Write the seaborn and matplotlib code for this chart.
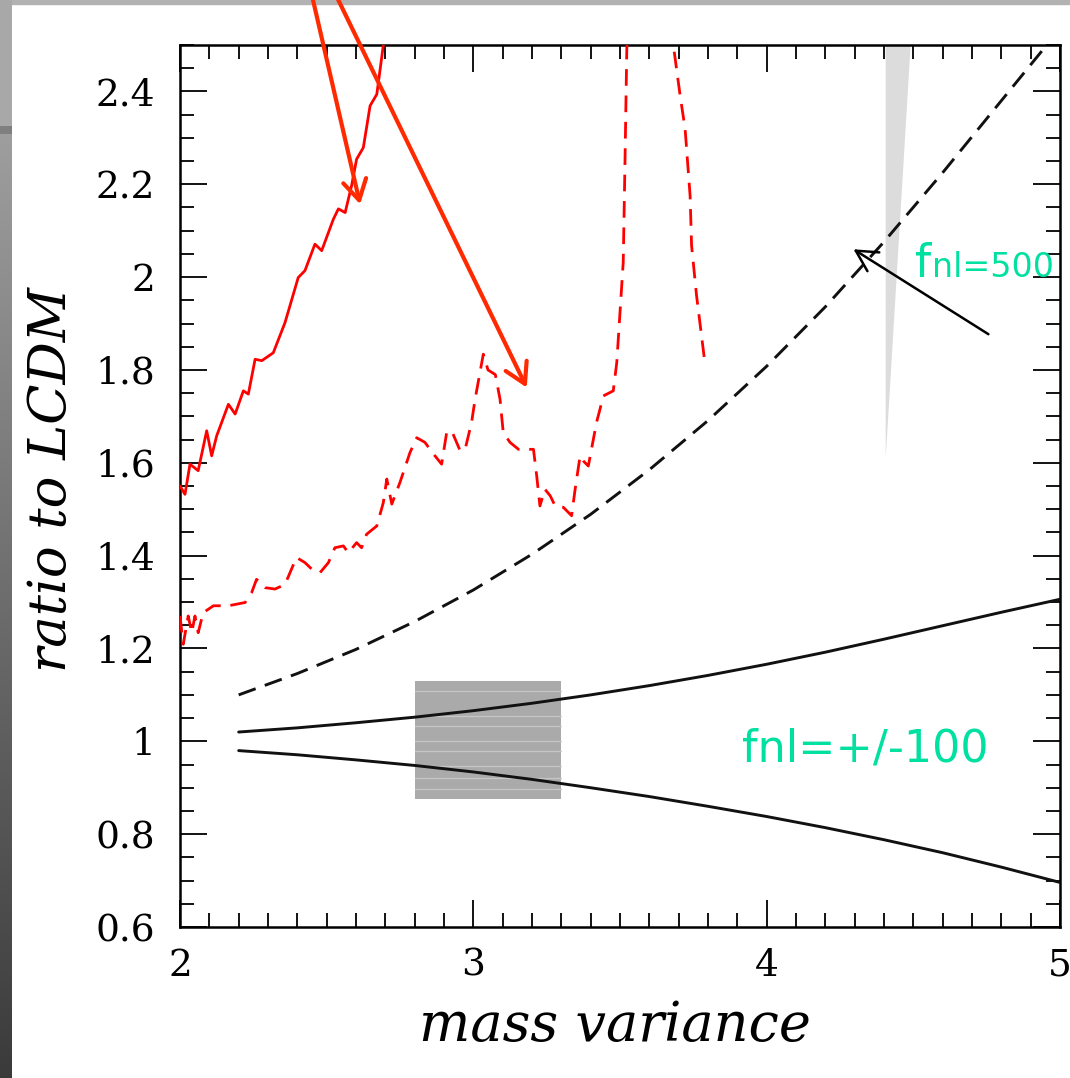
import numpy as np
import matplotlib
matplotlib.use("Agg")
import matplotlib.pyplot as plt
import seaborn as sns
from matplotlib.ticker import MultipleLocator, FuncFormatter
from matplotlib.patches import Rectangle

# ---------------------------------------------------------------- data
# simulation ratio, solid red
sim_solid_x = [2.000, 2.017, 2.034, 2.062, 2.091, 2.108, 2.125, 2.165, 2.188, 2.216,
               2.233, 2.256, 2.279, 2.318, 2.358, 2.403, 2.426, 2.460, 2.483, 2.523,
               2.540, 2.563, 2.585, 2.602, 2.625, 2.648, 2.671, 2.693, 2.710]
sim_solid_y = [1.550, 1.532, 1.597, 1.583, 1.669, 1.615, 1.658, 1.726, 1.705, 1.755,
               1.748, 1.823, 1.820, 1.837, 1.902, 1.999, 2.014, 2.071, 2.057, 2.125,
               2.147, 2.139, 2.197, 2.254, 2.279, 2.369, 2.394, 2.499, 2.560]

# simulation ratio, dashed red
sim_dash_x = [2.000, 2.011, 2.028, 2.040, 2.051, 2.062, 2.079, 2.114, 2.165, 2.222,
              2.244, 2.261, 2.290, 2.324, 2.358, 2.397, 2.426, 2.449, 2.477, 2.506,
              2.528, 2.557, 2.574, 2.602, 2.619, 2.636, 2.671, 2.693, 2.705, 2.722,
              2.750, 2.784, 2.807, 2.835, 2.864, 2.892, 2.909, 2.926, 2.955, 2.972,
              2.994, 3.006, 3.034, 3.050, 3.075, 3.091, 3.102, 3.125, 3.154, 3.205,
              3.216, 3.227, 3.244, 3.262, 3.279, 3.307, 3.335, 3.347, 3.364, 3.375,
              3.392, 3.420, 3.432, 3.443, 3.477, 3.489, 3.511, 3.517, 3.523, 3.528,
              3.678, 3.682, 3.705, 3.722, 3.739, 3.744, 3.761, 3.790]
sim_dash_y = [1.270, 1.209, 1.270, 1.234, 1.270, 1.234, 1.277, 1.292, 1.292, 1.299,
              1.320, 1.349, 1.331, 1.328, 1.338, 1.396, 1.385, 1.371, 1.363, 1.385,
              1.417, 1.421, 1.406, 1.428, 1.417, 1.446, 1.464, 1.514, 1.565, 1.511,
              1.558, 1.622, 1.654, 1.644, 1.619, 1.597, 1.665, 1.669, 1.626, 1.629,
              1.687, 1.737, 1.834, 1.800, 1.790, 1.737, 1.665, 1.644, 1.629, 1.629,
              1.572, 1.507, 1.543, 1.529, 1.507, 1.504, 1.486, 1.543, 1.615, 1.604,
              1.593, 1.687, 1.716, 1.744, 1.755, 1.816, 2.032, 2.247, 2.484, 2.620,
              2.620, 2.499, 2.391, 2.319, 2.175, 2.068, 1.960, 1.812]

# model prediction, fnl = 500 (dashed black)
model500_x = [2.2, 2.4, 2.6, 2.8, 3.0, 3.2, 3.4, 3.6, 3.8, 4.0, 4.2, 4.4, 4.6, 4.8, 5.0]
model500_y = [1.100, 1.146, 1.198, 1.258, 1.326, 1.403, 1.489, 1.585, 1.691, 1.808,
              1.936, 2.076, 2.225, 2.380, 2.535]

# model predictions, fnl = +100 / -100 (solid black)
model100_x = [2.2, 2.4, 2.6, 2.8, 3.0, 3.2, 3.4, 3.6, 3.8, 4.0, 4.2, 4.4, 4.6, 4.8, 5.0]
model_pos100_y = [1.020, 1.029, 1.040, 1.052, 1.066, 1.082, 1.100, 1.120, 1.142, 1.166,
                  1.192, 1.220, 1.249, 1.278, 1.306]
model_neg100_y = [0.980, 0.971, 0.960, 0.948, 0.934, 0.918, 0.900, 0.881, 0.860, 0.838,
                  0.814, 0.788, 0.760, 0.729, 0.696]

# shaded constraint box and wedge
box_x = [2.80, 3.30]
box_y = [0.875, 1.129]
box_lines_y = [1.108, 1.054, 1.033, 1.001, 0.979, 0.947, 0.922, 0.897]
wedge_y = [1.61, 2.50]
wedge_left = [4.404, 4.404]
wedge_right = [4.404, 4.489]

x_ticks = [2, 3, 4, 5]
y_ticks = [0.6, 0.8, 1.0, 1.2, 1.4, 1.6, 1.8, 2.0, 2.2, 2.4]

# ---------------------------------------------------------------- style
sns.set_style("ticks")
plt.rcParams.update({
    "font.family": ["DejaVu Serif"],
    "lines.scale_dashes": False,
    "xtick.direction": "in",
    "ytick.direction": "in",
    "xtick.top": True,
    "ytick.right": True,
    "axes.linewidth": 1.8,
    "axes.edgecolor": "black",
    "text.color": "black",
    "axes.labelcolor": "black",
    "xtick.color": "black",
    "ytick.color": "black",
    "xtick.labelcolor": "black",
    "ytick.labelcolor": "black",
})

GREEN = "#00e0a0"
ARROW_RED = "#ff2a00"

fig = plt.figure(figsize=(10.70, 10.78), dpi=100)
fig.patch.set_facecolor("white")

# slide frame: grey strip on the left and a thin band on top
strip = fig.add_axes([0, 0, 12 / 1070, 1])
shade = np.empty(1078)
shade[:126] = 0.66
shade[126:134] = 0.50
shade[134:] = np.linspace(0.62, 0.23, 1078 - 134)
strip.imshow(np.repeat(shade[:, None, None], 3, axis=2), aspect="auto",
             extent=[0, 1, 0, 1], interpolation="bilinear")
strip.set_axis_off()
fig.add_artist(Rectangle((0, 1 - 4 / 1078), 1, 4 / 1078, transform=fig.transFigure,
                         color="#b2b2b2", zorder=0))

ax = fig.add_axes([180 / 1070, 151 / 1078, 880 / 1070, 882 / 1078])
ax.set_facecolor("white")

# shaded regions
ax.fill_between(box_x, box_y[0], box_y[1], color="#aaaaaa", lw=0, zorder=1)
for yl in box_lines_y:
    ax.plot(box_x, [yl, yl], color="#c6c6c6", lw=0.9, zorder=1.2)
ax.fill_betweenx(wedge_y, wedge_left, wedge_right, color="#dcdcdc", lw=0, zorder=1)

# curves
sns.lineplot(x=sim_solid_x, y=sim_solid_y, ax=ax, color="#ff0000", lw=2.0,
             sort=False, estimator=None, zorder=3)
sns.lineplot(x=sim_dash_x, y=sim_dash_y, ax=ax, color="#ff0000", lw=2.0,
             linestyle=(0, (12, 7)), sort=False, estimator=None, zorder=3)
sns.lineplot(x=model500_x, y=model500_y, ax=ax, color="#111111", lw=2.1,
             linestyle=(0, (13, 7)), sort=False, estimator=None, zorder=3)
sns.lineplot(x=model100_x, y=model_pos100_y, ax=ax, color="#111111", lw=2.1,
             sort=False, estimator=None, zorder=3)
sns.lineplot(x=model100_x, y=model_neg100_y, ax=ax, color="#111111", lw=2.1,
             sort=False, estimator=None, zorder=3)

# axes
ax.set_xlim(2, 5)
ax.set_ylim(0.6, 2.5)
ax.set_xticks(x_ticks)
ax.set_yticks(y_ticks)
ax.xaxis.set_minor_locator(MultipleLocator(0.1))
ax.yaxis.set_minor_locator(MultipleLocator(0.05))
ax.yaxis.set_major_formatter(FuncFormatter(lambda v, p: f"{v:g}"))
ax.xaxis.set_major_formatter(FuncFormatter(lambda v, p: f"{v:g}"))
ax.tick_params(which="major", length=19.5, width=1.3, labelsize=27,
               color="black", labelcolor="black")
ax.tick_params(which="minor", length=10, width=1.3, color="black")
ax.tick_params(axis="x", which="major", pad=15)
ax.tick_params(axis="y", which="major", pad=18)
for s in ax.spines.values():
    s.set_linewidth(1.8)
    s.set_color("black")

ax.set_xlabel("mass variance", fontsize=39, style="italic", color="black")
ax.set_ylabel("ratio to LCDM", fontsize=38, style="italic", va="center", color="black")
ax.xaxis.set_label_coords(0.494, -0.083)
ax.yaxis.set_label_coords(-0.146, 0.507)

# labels for the model curves
ax.text(3.916, 0.957, "fnl=+/-100", color=GREEN, fontsize=32,
        family="DejaVu Sans", va="baseline", ha="left", zorder=5)
ax.text(4.506, 2.0, "f", color=GREEN, fontsize=33,
        family="DejaVu Sans", va="baseline", ha="left", zorder=5)
ax.text(4.562, 2.0, "nl=500", color=GREEN, fontsize=24,
        family="DejaVu Sans", va="baseline", ha="left", zorder=5)

# pointer to the fnl=500 curve
ax.annotate("", xy=(4.296, 2.060), xytext=(4.756, 1.877),
            arrowprops=dict(arrowstyle="->,head_length=0.75,head_width=0.4",
                            color="black", lw=1.8, shrinkA=0, shrinkB=0,
                            mutation_scale=20),
            zorder=6)

# red pointers to the simulation curves
for tip, start in [((2.614, 2.157), (2.445, 2.620)),
                   ((3.182, 1.762), (2.522, 2.620))]:
    ax.annotate("", xy=tip, xytext=start, annotation_clip=False,
                arrowprops=dict(arrowstyle="->,head_length=0.72,head_width=0.42",
                                color=ARROW_RED, lw=3.0, shrinkA=0, shrinkB=0,
                                mutation_scale=20, clip_on=False),
                zorder=7)

fig.savefig("out.png", dpi=100, facecolor="white")
